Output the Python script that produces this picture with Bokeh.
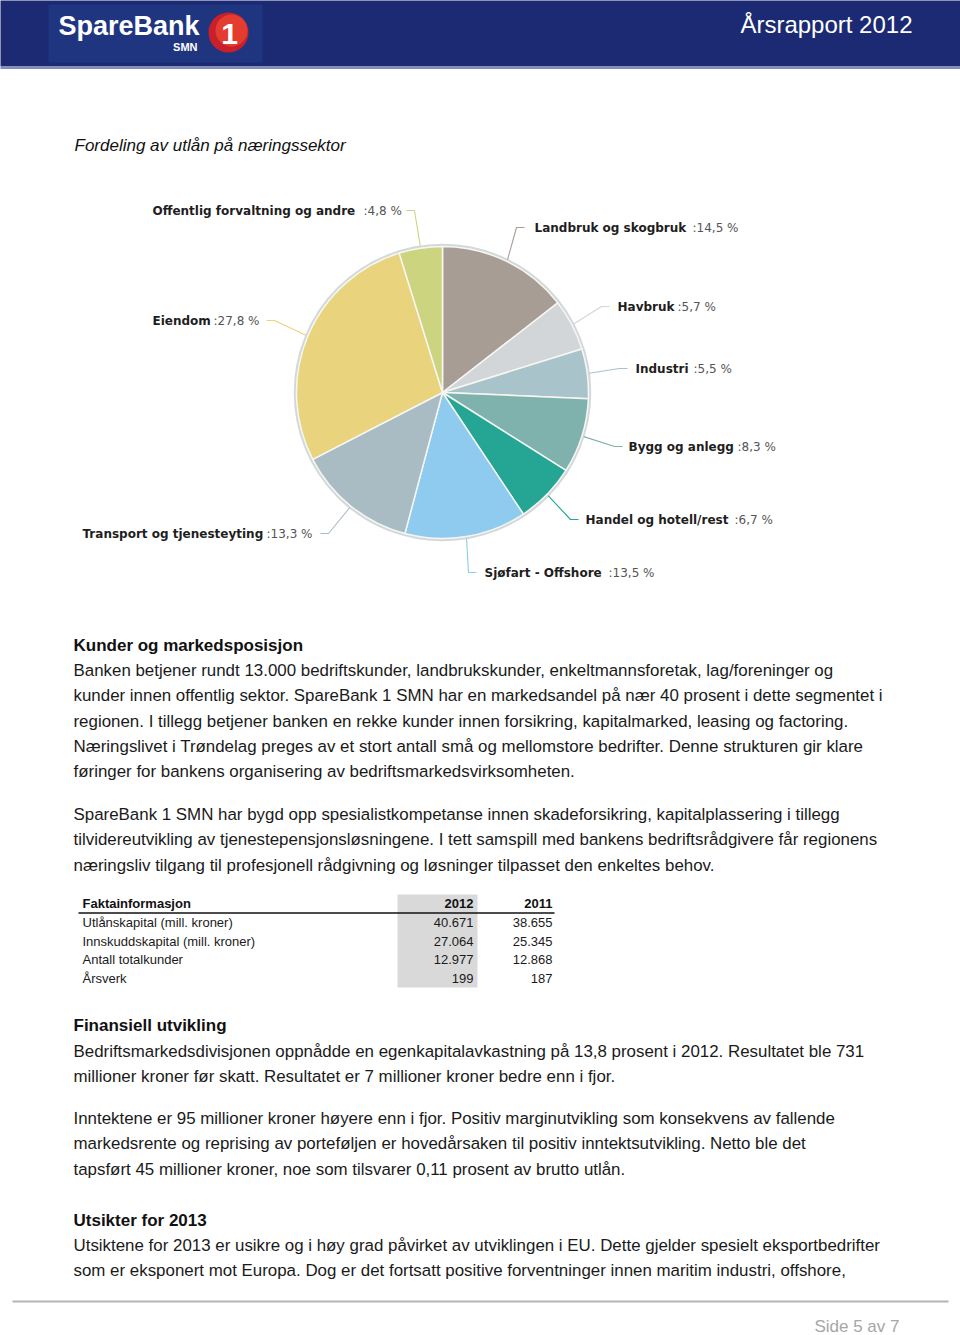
import math
from bokeh.plotting import figure
from bokeh.models import Range1d, ColumnDataSource
from bokeh.core.properties import value
from bokeh.embed import file_html
from bokeh.resources import INLINE

# ---------------- data ----------------
sectors = ["Landbruk og skogbruk", "Havbruk", "Industri", "Bygg og anlegg",
           "Handel og hotell/rest", "Sjøfart - Offshore", "Transport og tjenesteyting",
           "Eiendom", "Offentlig forvaltning og andre"]
shares = [14.5, 5.7, 5.5, 8.3, 6.7, 13.5, 13.3, 27.8, 4.8]
share_labels = [":14,5 %", ":5,7 %", ":5,5 %", ":8,3 %", ":6,7 %", ":13,5 %", ":13,3 %", ":27,8 %", ":4,8 %"]
colors = ["#a89d95", "#d3d6d8", "#a9c3cb", "#7fb2ac", "#25a695", "#8ecbef", "#a9bcc4", "#e9d37c", "#cdd480"]

table_rows = ["Utlånskapital (mill. kroner)", "Innskuddskapital (mill. kroner)", "Antall totalkunder", "Årsverk"]
table_2012 = ["40.671", "27.064", "12.977", "199"]
table_2011 = ["38.655", "25.345", "12.868", "187"]

para_kunder_1 = [
    "Banken betjener rundt 13.000 bedriftskunder, landbrukskunder, enkeltmannsforetak, lag/foreninger og",
    "kunder innen offentlig sektor. SpareBank 1 SMN har en markedsandel på nær 40 prosent i dette segmentet i",
    "regionen. I tillegg betjener banken en rekke kunder innen forsikring, kapitalmarked, leasing og factoring.",
    "Næringslivet i Trøndelag preges av et stort antall små og mellomstore bedrifter. Denne strukturen gir klare",
    "føringer for bankens organisering av bedriftsmarkedsvirksomheten.",
]
para_kunder_2 = [
    "SpareBank 1 SMN har bygd opp spesialistkompetanse innen skadeforsikring, kapitalplassering i tillegg",
    "tilvidereutvikling av tjenestepensjonsløsningene. I tett samspill med bankens bedriftsrådgivere får regionens",
    "næringsliv tilgang til profesjonell rådgivning og løsninger tilpasset den enkeltes behov.",
]
para_fin_1 = [
    "Bedriftsmarkedsdivisjonen oppnådde en egenkapitalavkastning på 13,8 prosent i 2012. Resultatet ble 731",
    "millioner kroner før skatt. Resultatet er 7 millioner kroner bedre enn i fjor.",
]
para_fin_2 = [
    "Inntektene er 95 millioner kroner høyere enn i fjor. Positiv marginutvikling som konsekvens av fallende",
    "markedsrente og reprising av porteføljen er hovedårsaken til positiv inntektsutvikling. Netto ble det",
    "tapsført 45 millioner kroner, noe som tilsvarer 0,11 prosent av brutto utlån.",
]
para_uts = [
    "Utsiktene for 2013 er usikre og i høy grad påvirket av utviklingen i EU. Dette gjelder spesielt eksportbedrifter",
    "som er eksponert mot Europa. Dog er det fortsatt positive forventninger innen maritim industri, offshore,",
]

# ---------------- layout (page pixel coords, y down) ----------------
W, H = 960, 1335
p = figure(width=W, height=H, x_range=Range1d(0, W), y_range=Range1d(-H, 0),
           output_backend="svg", toolbar_location=None, min_border=0,
           x_axis_location=None, y_axis_location=None)
p.grid.visible = False
p.outline_line_color = None
p.background_fill_color = "white"
p.border_fill_color = "white"

def Y(v):
    return [-t for t in v] if isinstance(v, list) else -v

SANS = value("Liberation Sans")

# header
p.quad(left=[-2], right=[962], top=[Y(-2)], bottom=[Y(66)], fill_color="#1b2a72", line_color=None)
p.quad(left=[-2], right=[962], top=[Y(66)], bottom=[Y(68.5)], fill_color="#8190b6", line_color=None)
p.quad(left=[48], right=[262], top=[Y(4)], bottom=[Y(62)], fill_color="#1f3580", line_color=None)
p.text(x=[58], y=[Y(25)], text=["SpareBank"], text_font=SANS, text_font_style="bold",
       text_font_size="27px", text_color="white", text_baseline="middle")
p.text(x=[197], y=[Y(46)], text=["SMN"], text_font=SANS, text_font_style="bold",
       text_font_size="11px", text_color="white", text_baseline="middle", text_align="right")
p.circle(x=[228], y=[Y(32)], radius=20, fill_color="#c8202a", line_color=None)
p.circle(x=[231], y=[Y(30)], radius=16, fill_color="#e53c32", line_color=None)
p.text(x=[229], y=[Y(33)], text=["1"], text_font=SANS, text_font_style="bold",
       text_font_size="30px", text_color="white", text_baseline="middle", text_align="center")
p.text(x=[912], y=[Y(24)], text=["Årsrapport 2012"], text_font=SANS, text_font_size="24px",
       text_color="white", text_baseline="middle", text_align="right")

# chart title
p.text(x=[74], y=[Y(145)], text=["Fordeling av utlån på næringssektor"], text_font=SANS,
       text_font_style="italic", text_font_size="17px", text_color="#111111", text_baseline="middle")

# pie
cx, cy, r = 442, 392, 146
total = sum(shares)
starts, ends, mids = [], [], []
cum = 0.0
for s in shares:
    a0 = math.pi / 2 - 2 * math.pi * (cum + s) / total
    a1 = math.pi / 2 - 2 * math.pi * cum / total
    starts.append(a0)
    ends.append(a1)
    mids.append((a0 + a1) / 2)
    cum += s
src = ColumnDataSource(dict(start=starts, end=ends, color=colors))
p.circle(x=[cx], y=[Y(cy)], radius=r + 1.5, fill_color=None, line_color="#d3d9da", line_width=2.5)
p.wedge(x=cx, y=Y(cy), radius=r, start_angle="start", end_angle="end", direction="anticlock",
        fill_color="color", line_color="#f6f6f2", line_width=1.5, source=src)

# labels: name x, value x, y, leader end x
label_pos = [(534, 692, 227, 524), (617, 677, 306, 609), (635, 693, 368, 627),
             (628, 737, 446, 622), (585, 734, 519, 578), (484, 608, 572, 476),
             (82, 266, 533, 320), (152, 213, 320, 266), (152, 363, 210, 406)]
lead_xs, lead_ys = [], []
for m, (nx, vx, ly, lx) in zip(mids, label_pos):
    px = cx + (r + 2) * math.cos(m)
    py = cy - (r + 2) * math.sin(m)
    elbow = lx - 8 if lx > cx else lx + 8
    lead_xs.append([px, elbow, lx])
    lead_ys.append([Y(py), Y(ly), Y(ly)])
p.multi_line(xs=lead_xs, ys=lead_ys, line_color=colors, line_width=1.1)
p.text(x=[q[0] for q in label_pos], y=Y([q[2] for q in label_pos]), text=sectors,
       text_font=value("DejaVu Sans"), text_font_style="bold", text_font_size="12px",
       text_color="#1e1e1e", text_baseline="middle")
p.text(x=[q[1] for q in label_pos], y=Y([q[2] for q in label_pos]), text=share_labels,
       text_font=value("DejaVu Sans"), text_font_size="12px",
       text_color="#555555", text_baseline="middle")

# text blocks
def heading(txt, y):
    p.text(x=[73], y=[Y(y)], text=[txt], text_font=SANS, text_font_style="bold",
           text_font_size="17px", text_color="#111111", text_baseline="middle")

def block(lines, y0, step=25.3):
    ys = [Y(y0 + i * step) for i in range(len(lines))]
    p.text(x=[73] * len(lines), y=ys, text=lines, text_font=SANS, text_font_size="16.9px",
           text_color="#1a1a1a", text_baseline="middle")

heading("Kunder og markedsposisjon", 645)
block(para_kunder_1, 670)
block(para_kunder_2, 814)
heading("Finansiell utvikling", 1025)
block(para_fin_1, 1051)
block(para_fin_2, 1118)
heading("Utsikter for 2013", 1220)
block(para_uts, 1245)

# table
p.quad(left=[397], right=[477], top=[Y(894)], bottom=[Y(987)], fill_color="#d9d9d9", line_color=None)
p.line(x=[78, 554], y=[Y(912.5), Y(912.5)], line_color="#111111", line_width=1.6)
p.text(x=[82], y=[Y(903)], text=["Faktainformasjon"], text_font=SANS, text_font_style="bold",
       text_font_size="13px", text_color="#111111", text_baseline="middle")
p.text(x=[473, 552], y=[Y(903), Y(903)], text=["2012", "2011"], text_font=SANS, text_font_style="bold",
       text_font_size="13px", text_color="#111111", text_baseline="middle", text_align="right")
row_y = [Y(922 + i * 18.7) for i in range(len(table_rows))]
p.text(x=[82] * 4, y=row_y, text=table_rows, text_font=SANS, text_font_size="13px",
       text_color="#1a1a1a", text_baseline="middle")
p.text(x=[473] * 4, y=row_y, text=table_2012, text_font=SANS, text_font_size="13px",
       text_color="#1a1a1a", text_baseline="middle", text_align="right")
p.text(x=[552] * 4, y=row_y, text=table_2011, text_font=SANS, text_font_size="13px",
       text_color="#1a1a1a", text_baseline="middle", text_align="right")

# footer
p.line(x=[12, 948], y=[Y(1301), Y(1301)], line_color="#b4b4b4", line_width=2)
p.text(x=[899], y=[Y(1326)], text=["Side 5 av 7"], text_font=SANS, text_font_size="17px",
       text_color="#a6a6a6", text_baseline="middle", text_align="right")

open("out.html", "w").write(file_html(p, INLINE))
